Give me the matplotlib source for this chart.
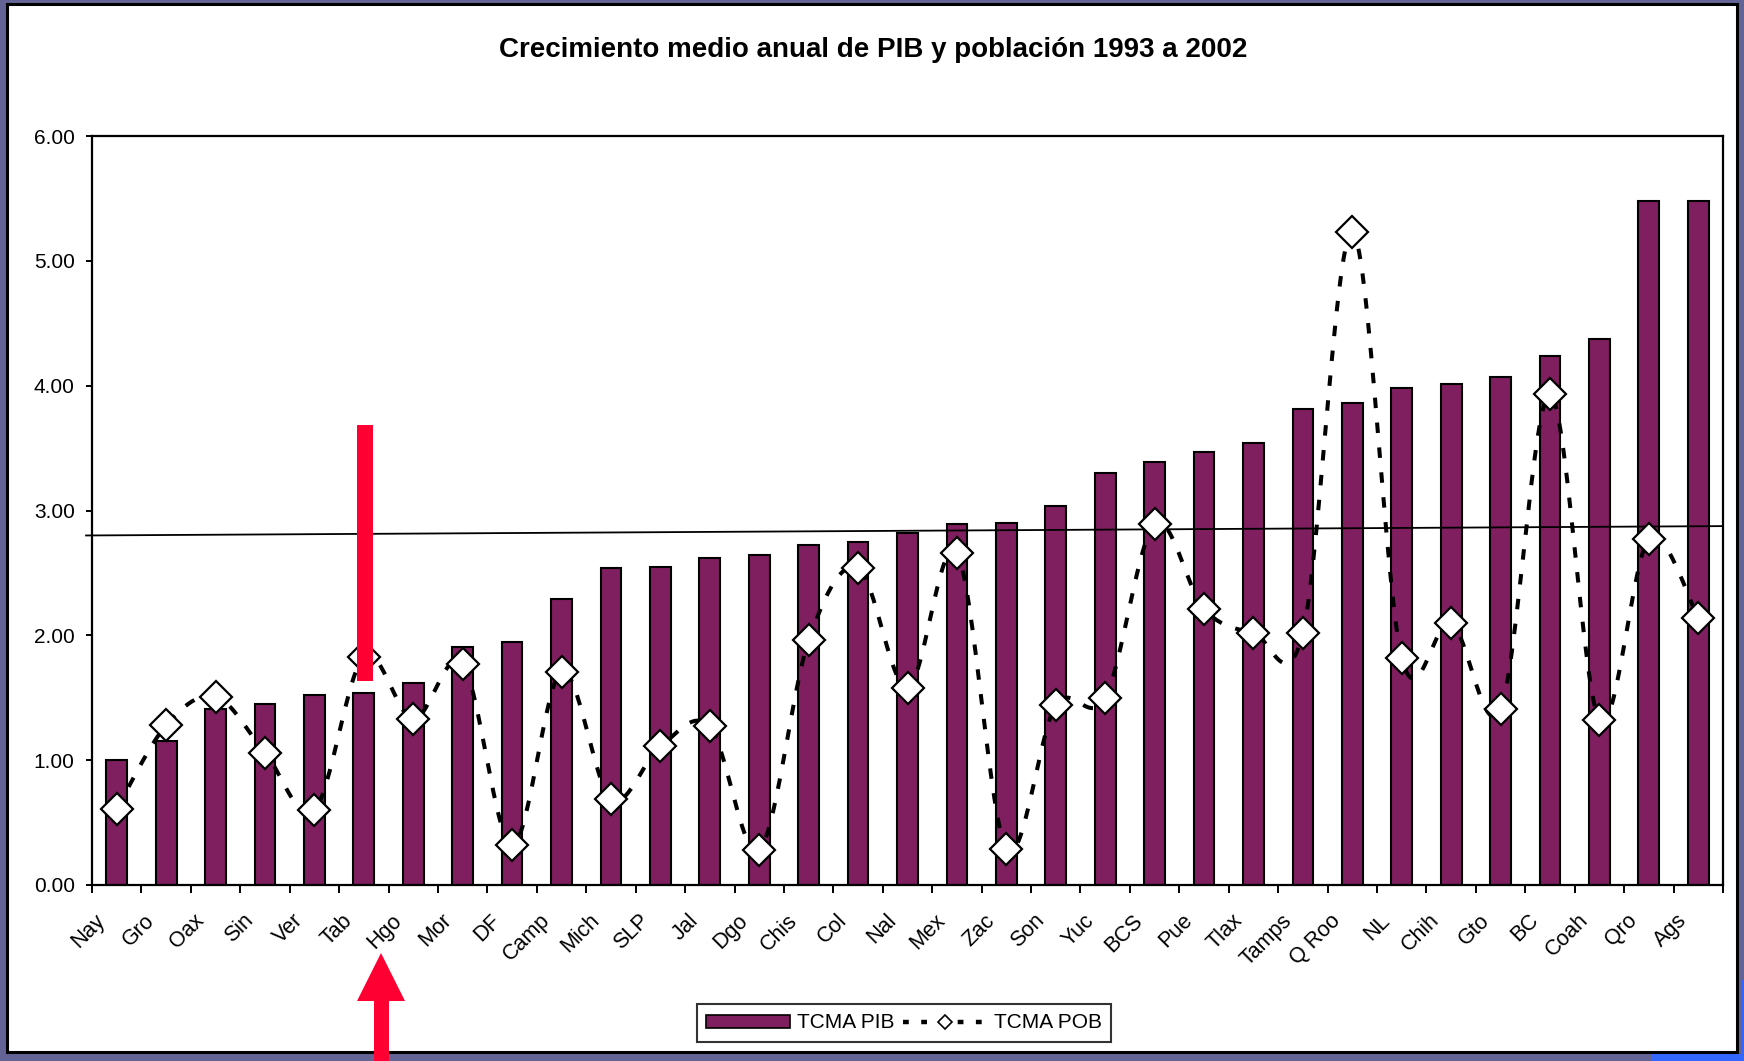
import numpy as np
import matplotlib
matplotlib.use('Agg')
import matplotlib.pyplot as plt
from matplotlib.patches import Rectangle, Polygon
from matplotlib.lines import Line2D
from matplotlib.transforms import ScaledTranslation

plt.rcParams['font.family'] = ['Liberation Sans', 'DejaVu Sans']

# data
estados = ['Nay', 'Gro', 'Oax', 'Sin', 'Ver', 'Tab', 'Hgo', 'Mor', 'DF', 'Camp', 'Mich',
           'SLP', 'Jal', 'Dgo', 'Chis', 'Col', 'Nal', 'Mex', 'Zac', 'Son', 'Yuc', 'BCS',
           'Pue', 'Tlax', 'Tamps', 'Q Roo', 'NL', 'Chih', 'Gto', 'BC', 'Coah', 'Qro', 'Ags']
tcma_pib = [1.00, 1.15, 1.41, 1.45, 1.52, 1.54, 1.62, 1.91, 1.95, 2.29, 2.54,
            2.55, 2.62, 2.64, 2.72, 2.75, 2.82, 2.89, 2.90, 3.04, 3.30, 3.39,
            3.47, 3.54, 3.81, 3.86, 3.98, 4.01, 4.07, 4.24, 4.37, 5.48, 5.48]
tcma_pob = [0.61, 1.28, 1.51, 1.06, 0.60, 1.83, 1.33, 1.77, 0.32, 1.71, 0.69,
            1.11, 1.27, 0.28, 1.96, 2.54, 1.58, 2.66, 0.29, 1.44, 1.50, 2.89,
            2.21, 2.02, 2.02, 5.23, 1.82, 2.10, 1.41, 3.93, 1.32, 2.77, 2.14]
trend_start = 2.80   # trend line value at left edge
trend_end = 2.875    # trend line value at right edge
y_ticks = [0, 1, 2, 3, 4, 5, 6]

purple_bar = '#7f1f5f'
slide_bg = '#636396'
red = '#ff0033'

W, H = 1744, 1061
fig = plt.figure(figsize=(W / 100, H / 100), dpi=100)
fig.patch.set_facecolor(slide_bg)

def px(x, y):
    # figure pixel (from top-left) -> figure fraction
    return x / W, 1 - y / H

# white chart panel with black border
fig.patches.append(Rectangle(px(7, 1052), 1730 / W, 1048 / H, transform=fig.transFigure,
                             facecolor='white', edgecolor='black', linewidth=2.2, zorder=-10))
fig.patches.append(Rectangle(px(1652, 1061), 92 / W, 7 / H, transform=fig.transFigure,
                             facecolor='#3366ff', edgecolor='none', zorder=-10))
fig.patches.append(Rectangle(px(1741, 1061), 3 / W, 81 / H, transform=fig.transFigure,
                             facecolor='#3366ff', edgecolor='none', zorder=-10))

l, b = px(92, 885)
ax = fig.add_axes([l, b, (1723 - 92) / W, (885 - 136) / H])
ax.set_facecolor('white')

x = np.arange(len(estados))
ax.bar(x, tcma_pib, width=0.42, color=purple_bar, edgecolor='black', linewidth=1.5, zorder=2)

# smoothed line like Excel (bezier through the points)
pts = np.column_stack([x, tcma_pob]).astype(float)
ext = np.vstack([pts[0], pts, pts[-1]])
curve = []
t = np.linspace(0, 1, 30)[:, None]
for i in range(len(pts) - 1):
    p0, p3 = ext[i + 1], ext[i + 2]
    p1 = p0 + (ext[i + 2] - ext[i]) / 6
    p2 = p3 - (ext[i + 3] - ext[i + 1]) / 6
    seg = (1 - t) ** 3 * p0 + 3 * (1 - t) ** 2 * t * p1 + 3 * (1 - t) * t ** 2 * p2 + t ** 3 * p3
    curve.append(seg)
curve = np.vstack(curve)
ax.plot(curve[:, 0], curve[:, 1], color='black', linewidth=2.9, linestyle=(0, (2.6, 3.6)),
        dash_capstyle='butt', zorder=3)
ax.plot(x, tcma_pob, linestyle='none', marker='D', markersize=16, markerfacecolor='white',
        markeredgecolor='black', markeredgewidth=1.6, zorder=4)

# trend line
ax.plot([-0.62, len(estados) - 0.5], [trend_start, trend_end], color='black', linewidth=1.3,
        clip_on=False, zorder=3)

ax.set_xlim(-0.5, len(estados) - 0.5)
ax.set_ylim(0, 6)
ax.set_yticks(y_ticks)
ax.set_yticklabels([f'{v:.2f}' for v in y_ticks], fontsize=15)
ax.set_xticks(np.arange(len(estados) + 1) - 0.5)
ax.set_xticklabels([])
ax.tick_params(axis='x', length=5.5, width=1.4, direction='out')
ax.tick_params(axis='y', length=4.5, width=1.4, direction='out', pad=8)
for s in ax.spines.values():
    s.set_linewidth(1.6)

# category labels, rotated and shifted left of the bar centre
lab_tr = ax.get_xaxis_transform() + ScaledTranslation(-22 / 100, -25 / 100, fig.dpi_scale_trans)
for xi, name in zip(x, estados):
    ax.text(xi, 0, name, transform=lab_tr, fontsize=15.5, rotation=45, ha='right', va='top',
            rotation_mode='anchor')

fig.text(*px(873, 50), 'Crecimiento medio anual de PIB y población 1993 a 2002',
         fontsize=20, fontweight='bold', ha='center', va='center')

# legend
h_bar = Rectangle((0, 0), 1, 1, facecolor=purple_bar, edgecolor='black', linewidth=1.2)
h_line = Line2D([], [], color='black', linewidth=3.2, linestyle=(0, (1.3, 2.8)), dash_capstyle='butt',
                marker='D', markersize=7, markerfacecolor='white', markeredgecolor='black',
                markeredgewidth=1.2)
leg = fig.legend([h_bar, h_line], ['TCMA PIB', 'TCMA POB'], loc='center',
                 bbox_to_anchor=px(904, 1023), ncol=2, fontsize=15, frameon=True,
                 fancybox=False, edgecolor='black', handlelength=4.0, handleheight=0.6,
                 columnspacing=0.4, handletextpad=0.35, borderpad=0.45)
leg.get_frame().set_linewidth(1.5)

# red highlight marks
fig.patches.append(Rectangle(px(357, 681), 16 / W, 256 / H, transform=fig.transFigure,
                             facecolor=red, edgecolor='none', zorder=5))
arrow = [(381, 953), (405, 1001), (389, 1001), (389, 1061), (374, 1061), (374, 1001), (357, 1001)]
fig.patches.append(Polygon([px(a, c) for a, c in arrow], closed=True, transform=fig.transFigure,
                           facecolor=red, edgecolor='none', zorder=5))

fig.savefig('out.png', dpi=100, facecolor=fig.get_facecolor())
